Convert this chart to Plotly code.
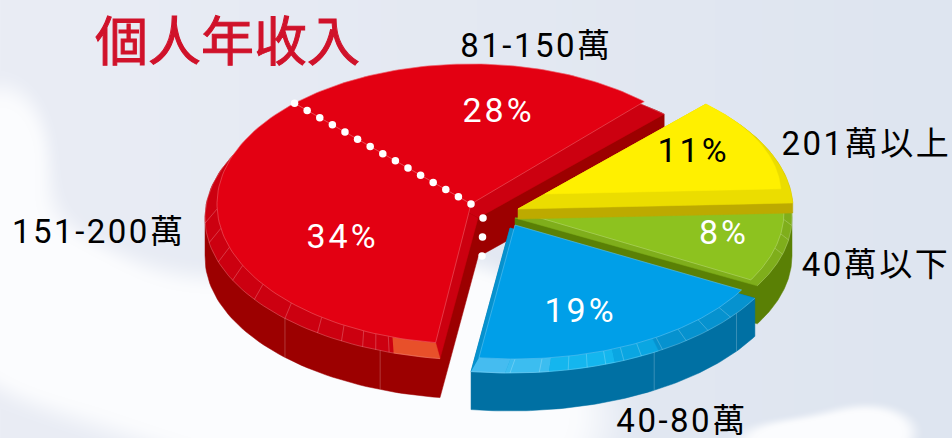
import base64, struct, zlib
import numpy as np
import plotly.graph_objects as go

# ---- data ----
categories = ["81-150萬", "151-200萬", "40-80萬", "40萬以下", "201萬以上"]
shares = [28, 34, 19, 8, 11]
title_text = "個人年收入"

# ---- style ----
W, H = 952, 438
START_DEG = 44.0
# drawn pie is viewed in perspective: small correction of each slice boundary
BOUNDARY_SHIFT = [3.0, -10.8, -5.2, -4.6, -2.0, 3.0]
CJK = "Roboto, 'Noto Sans CJK TC', sans-serif"
SLICE_STYLE = {
    "81-150萬": dict(face=(471, 204, 254, 140), rim=(478, 218, 273, 142), depth=39, c=("#E30012", "#CC0010", "#9C0000")),
    "151-200萬": dict(face=(471, 204, 254, 140), rim=(478, 218, 273, 142), depth=39, c=("#E30012", "#CC0010", "#9C0000")),
    "40-80萬": dict(face=(515, 225, 259, 134), rim=(510, 228, 280, 145), depth=38, c=("#009FE8", "#0692CF", "#0070A3")),
    "40萬以下": dict(face=(520, 212, 264, 140), rim=(515, 218, 277, 140), depth=38, c=("#8DC21F", "#7FAE1B", "#5A8005")),
    "201萬以上": dict(face=(545, 194, 236, 123), rim=(518, 209, 275, 143), depth=10, c=("#FFF000", "#EBDD00", "#BDAA00")),
}
LABEL_POS = {
    "81-150萬": (536, 45), "151-200萬": (98, 231), "40-80萬": (682, 420),
    "40萬以下": (876, 264), "201萬以上": (866, 143),
}
PCT_POS = {
    "81-150萬": (498, 110, "white"), "151-200萬": (342, 236, "white"), "40-80萬": (580, 310, "white"),
    "40萬以下": (724, 232, "white"), "201萬以上": (693, 150, "black"),
}
# accents on the rim, in degrees after the slice's start
ACCENTS = {
    "151-200萬": [(-10, 0, "#E8502A")],
    "40-80萬": [(0, 7, "#45BCF0"), (7, 16, "#3CBDF0"), (16, 30, "#14B6EE"), (30, 40, "#0AA6E2")],
}
RIM_TICKS = {
    "151-200萬": [182, 190, 198, 206, 215, 225, 234, 240, 245, 248, 251],
    "40-80萬": [270, 276, 282, 286, 290, 294, 298, 303, 309, 315, 322],
    "40萬以下": [345, 351, 357],
}
SIDE_TICKS = {"151-200萬": [225, 249], "40-80萬": [301, 324]}
LINE_LIGHT = "rgba(255,255,255,0.28)"

# ---- geometry from the values ----
cum = np.cumsum([0] + shares) / sum(shares) * 360 + START_DEG
bounds = cum + np.array(BOUNDARY_SHIFT)


def pt(ell, deg):
    cx, cy, rx, ry = ell
    t = np.radians(deg)
    return cx + rx * np.cos(t), cy - ry * np.sin(t)


def wedge(ell, a0, a1, n=80):
    ts = np.linspace(a0, a1, n)
    xs, ys = pt(ell, ts)
    return [ell[0]] + list(xs) + [ell[0]], [ell[1]] + list(ys) + [ell[1]]


def hull(xs, ys):
    pts = sorted(set(zip(xs, ys)))
    def half(points):
        out = []
        for p in points:
            while len(out) > 1 and (out[-1][0]-out[-2][0])*(p[1]-out[-2][1]) - (out[-1][1]-out[-2][1])*(p[0]-out[-2][0]) <= 0:
                out.pop()
            out.append(p)
        return out[:-1]
    h = half(pts) + half(pts[::-1])
    return [p[0] for p in h] + [h[0][0]], [p[1] for p in h] + [h[0][1]]


def poly(xs, ys, color):
    return go.Scatter(x=xs, y=ys, mode="lines", fill="toself", fillcolor=color,
                      line=dict(color=color, width=0.5), hoverinfo="skip", showlegend=False)


def thin(xs, ys):
    return go.Scatter(x=xs, y=ys, mode="lines", line=dict(color=LINE_LIGHT, width=0.8),
                      hoverinfo="skip", showlegend=False)


fig = go.Figure()
draw_order = ["81-150萬", "151-200萬", "40萬以下", "201萬以上", "40-80萬"]
for name in draw_order:
    i = categories.index(name)
    st = SLICE_STYLE[name]
    a0, a1 = bounds[i], bounds[i + 1]
    fc, bc, sc = st["c"]
    depth = st["depth"]
    bx, by = wedge(st["rim"], a0, a1)
    hx, hy = hull(bx + bx, by + [v + depth for v in by])
    fig.add_trace(poly(hx, hy, sc))
    fig.add_trace(poly(bx, by, bc))
    for d0, d1, col in ACCENTS.get(name, []):
        base = a1 if d0 < 0 else a0
        ts = np.linspace(base + d0, base + d1, 12)
        ox, oy = pt(st["rim"], ts)
        ix, iy = pt(st["face"], ts[::-1])
        fig.add_trace(poly(list(ox) + list(ix), list(oy) + list(iy), col))
    for deg in RIM_TICKS.get(name, []):
        ox, oy = pt(st["rim"], deg)
        ix, iy = pt(st["face"], deg)
        fig.add_trace(thin([ox, ix], [oy, iy]))
    for deg in SIDE_TICKS.get(name, []):
        ox, oy = pt(st["rim"], deg)
        fig.add_trace(thin([ox, ox], [oy, oy + depth]))
    if name != "201萬以上":
        ts = np.linspace(a0, a1, 80)
        ox, oy = pt(st["rim"], ts)
        fig.add_trace(thin(list(ox), list(oy)))
    fx, fy = wedge(st["face"], a0, a1)
    fig.add_trace(poly(fx, fy, fc))
    if name == "201萬以上":
        # the bright top runs on to the rim's centre along the far edge
        tipx, tipy = pt(st["rim"], a1)
        fig.add_trace(poly([st["rim"][0], st["face"][0], tipx], [st["rim"][1], st["face"][1], tipy], fc))
    else:
        fig.add_trace(thin(fx, fy))

# dotted seam between the two red slices, from rim to centre and down the cut
ell_f = SLICE_STYLE["81-150萬"]["face"]
ell_r = SLICE_STYLE["81-150萬"]["rim"]
sx, sy = pt(ell_f, bounds[1])
t = np.linspace(0, 1, 15)
dot_x = list(sx + (ell_f[0] - sx) * t)
dot_y = list(sy + (ell_f[1] - sy) * t)
t2 = np.array([0, 1, 2])
dot_x += list(ell_r[0] + 5 - 0.5 * t2)
dot_y += list(ell_r[1] + t2 * 19)
fig.add_trace(go.Scatter(x=dot_x, y=dot_y, mode="markers", marker=dict(color="white", size=7.5),
                         hoverinfo="skip", showlegend=False))

ann = []
ann.append(dict(x=227, y=38, text=title_text, showarrow=False,
                font=dict(family="'Noto Sans CJK TC', sans-serif", size=53, color="#D0122A")))
for name in categories:
    x, y = LABEL_POS[name]
    extra = dict(height=34, width=150) if name == "40-80萬" else {}
    ann.append(dict(x=x, y=y, text=name, showarrow=False,
                    font=dict(family=CJK, size=33, color="black"), **extra))
for name, v in zip(categories, shares):
    x, y, col = PCT_POS[name]
    ann.append(dict(x=x, y=y, text=f"{v}%", showarrow=False, font=dict(family=CJK, size=34, color=col)))


# ---- sky backdrop ----
def sky():
    yy, xx = np.mgrid[0:H, 0:W]
    mix = (xx / W)[..., None]
    left = np.array([234, 237, 245.0])
    right = np.array([222, 229, 240.0])
    base = left * (1 - mix) + right * mix
    blobs = [(0, 150, 65, 90, 1.0), (30, 300, 100, 80, 1.0), (200, 360, 200, 100, 1.0), (450, 420, 220, 130, 1.0),
             (470, 350, 60, 90, 0.8), (870, 432, 60, 35, 1.0), (790, 442, 60, 25, 0.9)]
    f = np.zeros((H, W))
    for bx_, by_, sx_, sy_, k in blobs:
        f += k * np.exp(-((xx - bx_) / sx_) ** 2 - ((yy - by_) / sy_) ** 2)
    s = np.clip((f - 0.45) / 0.35, 0, 1)
    a = (s * s * (3 - 2 * s))[..., None]
    img = (base * (1 - a) + np.array([251, 252, 254]) * a).astype(np.uint8)
    raw = b"".join(b"\x00" + img[r].tobytes() for r in range(H))
    def chunk(tag, data):
        c = struct.pack(">I", len(data)) + tag + data
        return c + struct.pack(">I", zlib.crc32(tag + data) & 0xffffffff)
    png = b"\x89PNG\r\n\x1a\n" + chunk(b"IHDR", struct.pack(">IIBBBBB", W, H, 8, 2, 0, 0, 0)) + chunk(b"IDAT", zlib.compress(raw)) + chunk(b"IEND", b"")
    return "data:image/png;base64," + base64.b64encode(png).decode()


fig.update_layout(
    width=W, height=H, margin=dict(l=0, r=0, t=0, b=0), showlegend=False,
    paper_bgcolor="#E0E6F1", plot_bgcolor="rgba(0,0,0,0)", annotations=ann,
    xaxis=dict(range=[0, W], visible=False, fixedrange=True),
    yaxis=dict(range=[H, 0], visible=False, fixedrange=True),
    images=[dict(source=sky(), xref="paper", yref="paper", x=0, y=1, sizex=1, sizey=1,
                 sizing="stretch", xanchor="left", yanchor="top", layer="below")],
)
POST = """
document.body.style.margin='0';
document.documentElement.style.overflow='hidden';
document.querySelectorAll('.annotation-text').forEach(function(n){
  var t=n.textContent;
  if(t.indexOf('個')===0){n.style.stroke='#D0122A';n.style.strokeWidth='1px';}
  else if(t.indexOf('%')>0){n.style.letterSpacing='3px';}
  else{n.style.letterSpacing='2.5px';}
});
"""
fig.write_html("out.html", config={"displayModeBar": False}, post_script=POST)
